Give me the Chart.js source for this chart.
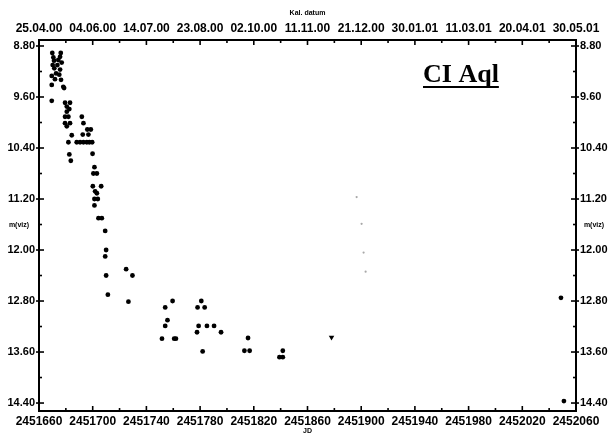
<!DOCTYPE html>
<html>
<head>
<meta charset="utf-8">
<script src="https://cdn.jsdelivr.net/npm/chart.js@4/dist/chart.umd.min.js"></script>
<style>
  html, body { margin: 0; padding: 0; background: #fff; }
  #wrap { width: 608px; height: 435px; }
</style>
</head>
<body>
<div id="wrap"><canvas id="c" width="608" height="435"></canvas></div>
<script>
// Julian-date ticks on the bottom axis and the matching calendar dates on top
const jdTicks = [2451660, 2451700, 2451740, 2451780, 2451820, 2451860,
                 2451900, 2451940, 2451980, 2452020, 2452060];
const dateLabels = ['25.04.00', '04.06.00', '14.07.00', '23.08.00', '02.10.00', '11.11.00',
                    '21.12.00', '30.01.01', '11.03.01', '20.04.01', '30.05.01'];
// visual magnitude ticks (axis is inverted: brighter at the top)
const magTicks = [8.8, 9.6, 10.4, 11.2, 12.0, 12.8, 13.6, 14.4];

// visual estimates of CI Aql
const obsJD = [
  2451669.9, 2451676.2, 2451670.7, 2451675.7, 2451671.2, 2451674.4, 2451676.9, 2451670.2,
  2451673.7, 2451671.4, 2451675.7, 2451672.7, 2451669.5, 2451675.1, 2451671.9, 2451676.4,
  2451669.5, 2451678.1, 2451678.7, 2451669.5,
  2451679.4, 2451683.1, 2451680.7, 2451682.6, 2451680.7, 2451679.4, 2451681.9, 2451679.4,
  2451683.1, 2451680.7, 2451684.4, 2451681.9, 2451682.6, 2451683.7,
  2451691.9, 2451693.1, 2451696.0, 2451698.6, 2451692.6, 2451696.8, 2451688.1, 2451690.6,
  2451693.1, 2451695.6, 2451697.5, 2451699.6, 2451699.9, 2451701.3, 2451700.5, 2451703.1,
  2451700.1, 2451706.3, 2451701.8, 2451703.1, 2451701.3, 2451703.8, 2451701.3, 2451704.3,
  2451706.8, 2451709.3, 2451710.0, 2451709.3, 2451710.0, 2451711.3,
  2451724.9, 2451729.6, 2451726.6,
  2451759.5, 2451754.0, 2451755.7, 2451754.0, 2451751.6, 2451760.7, 2451762.0,
  2451780.9, 2451778.1, 2451783.4, 2451778.9, 2451777.7, 2451785.1, 2451790.4, 2451795.6,
  2451781.9,
  2451815.7, 2451813.0, 2451816.9,
  2451841.6, 2451839.1, 2451841.6,
  2452048.8, 2452051.0
];
const obsMag = [
  8.91, 8.91, 8.98, 8.97, 9.03, 9.02, 9.06, 9.10,
  9.10, 9.15, 9.17, 9.23, 9.27, 9.25, 9.32, 9.33,
  9.41, 9.44, 9.46, 9.66,
  9.69, 9.69, 9.75, 9.79, 9.83, 9.91, 9.91, 10.01,
  10.01, 10.06, 10.20, 10.31, 10.50, 10.60,
  9.91, 10.01, 10.11, 10.11, 10.19, 10.19, 10.31, 10.31,
  10.31, 10.31, 10.31, 10.31, 10.49, 10.70, 10.80, 10.80,
  11.00, 11.00, 11.08, 11.11, 11.20, 11.20, 11.30, 11.50,
  11.50, 11.70, 12.00, 12.10, 12.40, 12.70,
  12.30, 12.40, 12.81,
  12.80, 12.90, 13.10, 13.19, 13.39, 13.39, 13.39,
  12.80, 12.90, 12.90, 13.19, 13.29, 13.19, 13.19, 13.29,
  13.59,
  13.38, 13.58, 13.58,
  13.58, 13.68, 13.68,
  12.75, 14.37
];
// "fainter than" estimate
const limitJD = [2451877.9];
const limitMag = [13.37];
// weak pencil-like marks
const faintJD = [2451896.6, 2451900.3, 2451901.8, 2451903.3];
const faintMag = [11.17, 11.59, 12.04, 12.34];

const pts = (xs, ys) => xs.map((x, i) => ({ x: x, y: ys[i] }));

const FONT = '"Liberation Sans", Arial, sans-serif';

// short tick marks pointing into the plot, plus the m(viz) labels and the star name
const frameDecor = {
  id: 'frameDecor',
  afterDraw(chart) {
    const ctx = chart.ctx, a = chart.chartArea, s = chart.scales;
    ctx.save();
    ctx.strokeStyle = '#000';
    ctx.lineWidth = 1.6;
    const seg = (x1, y1, x2, y2) => { ctx.beginPath(); ctx.moveTo(x1, y1); ctx.lineTo(x2, y2); ctx.stroke(); };

    for (let i = 0; i < jdTicks.length; i++) {
      const px = s.x.getPixelForValue(jdTicks[i]);
      seg(px, a.bottom, px, a.bottom - 5);
      seg(px, a.top, px, a.top + 5);
      if (i < jdTicks.length - 1) {
        const pm = s.x.getPixelForValue((jdTicks[i] + jdTicks[i + 1]) / 2);
        seg(pm, a.bottom, pm, a.bottom - 3);
        seg(pm, a.top, pm, a.top + 3);
      }
    }
    for (let i = 0; i < magTicks.length; i++) {
      const py = s.y.getPixelForValue(magTicks[i]);
      seg(a.left - 3, py, a.left + 5, py);
      seg(a.right + 3, py, a.right - 5, py);
      if (i < magTicks.length - 1) {
        const pm = s.y.getPixelForValue((magTicks[i] + magTicks[i + 1]) / 2);
        seg(a.left, pm, a.left + 3, pm);
        seg(a.right, pm, a.right - 3, pm);
      }
    }

    const midY = (a.top + a.bottom) / 2;
    ctx.fillStyle = '#000';
    ctx.font = 'bold 7px ' + FONT;
    ctx.textAlign = 'center';
    ctx.textBaseline = 'middle';
    ctx.fillText('m(viz)', 19, midY);
    ctx.fillText('m(viz)', a.right + 18, midY);

    ctx.font = 'bold 26px "Liberation Serif", "DejaVu Serif", serif';
    ctx.textAlign = 'left';
    ctx.textBaseline = 'alphabetic';
    const tx = 423, ty = 82;
    ctx.fillText('CI Aql', tx, ty);
    const w = ctx.measureText('CI Aql').width;
    ctx.fillRect(tx, ty + 4, w, 2);
    ctx.restore();
  }
};

const xFont = { family: FONT, size: 12, weight: 'bold' };
const yFont = { family: FONT, size: 11, weight: 'bold' };
const border = { display: true, color: '#000', width: 2 };
const noGrid = { drawOnChartArea: false, drawTicks: false };
const xMin = jdTicks[0], xMax = jdTicks[jdTicks.length - 1];
const yMin = 8.706, yMax = 14.525;

new Chart(document.getElementById('c'), {
  type: 'scatter',
  data: {
    datasets: [
      { data: pts(obsJD, obsMag), backgroundColor: '#000', borderWidth: 0, pointRadius: 2.4,
        xAxisID: 'x', yAxisID: 'y' },
      { data: pts(limitJD, limitMag), backgroundColor: '#000', borderWidth: 0, pointRadius: 3.2,
        pointStyle: 'triangle', rotation: 180, xAxisID: 'x', yAxisID: 'y' },
      { data: pts(faintJD, faintMag), backgroundColor: '#a8a8a8', borderWidth: 0, pointRadius: 1.1,
        xAxisID: 'x', yAxisID: 'y' }
    ]
  },
  options: {
    responsive: false,
    devicePixelRatio: 1,
    animation: false,
    layout: { padding: 0 },
    plugins: { legend: { display: false }, tooltip: { enabled: false } },
    scales: {
      x: {
        type: 'linear', position: 'bottom', min: xMin, max: xMax,
        afterBuildTicks: sc => { sc.ticks = jdTicks.map(v => ({ value: v })); },
        afterFit: sc => { sc.height = 24; },
        ticks: { color: '#000', font: xFont, padding: 3, maxRotation: 0, autoSkip: false,
                 callback: v => String(v) },
        grid: noGrid, border: border,
        title: { display: true, text: 'JD', color: '#000',
                 font: { family: FONT, size: 7, weight: 'bold' }, padding: { top: 0, bottom: 0 } }
      },
      x2: {
        type: 'linear', position: 'top', min: xMin, max: xMax,
        afterBuildTicks: sc => { sc.ticks = jdTicks.map(v => ({ value: v })); },
        afterFit: sc => { sc.height = 40; },
        ticks: { color: '#000', font: xFont, padding: 4, maxRotation: 0, autoSkip: false,
                 callback: (v, i) => dateLabels[i] },
        grid: noGrid, border: border,
        title: { display: true, text: 'Kal. datum', color: '#000',
                 font: { family: FONT, size: 7, weight: 'bold' }, padding: { top: 9, bottom: 0 } }
      },
      y: {
        type: 'linear', position: 'left', reverse: true, min: yMin, max: yMax,
        afterBuildTicks: sc => { sc.ticks = magTicks.map(v => ({ value: v })); },
        afterFit: sc => { sc.width = 39; },
        ticks: { color: '#000', font: yFont, padding: 4, autoSkip: false,
                 callback: v => v.toFixed(2) },
        grid: noGrid, border: border
      },
      y2: {
        type: 'linear', position: 'right', reverse: true, min: yMin, max: yMax,
        afterBuildTicks: sc => { sc.ticks = magTicks.map(v => ({ value: v })); },
        afterFit: sc => { sc.width = 32; },
        ticks: { color: '#000', font: yFont, padding: 4, autoSkip: false,
                 callback: v => v.toFixed(2) },
        grid: noGrid, border: border
      }
    }
  },
  plugins: [frameDecor]
});
</script>
</body>
</html>
